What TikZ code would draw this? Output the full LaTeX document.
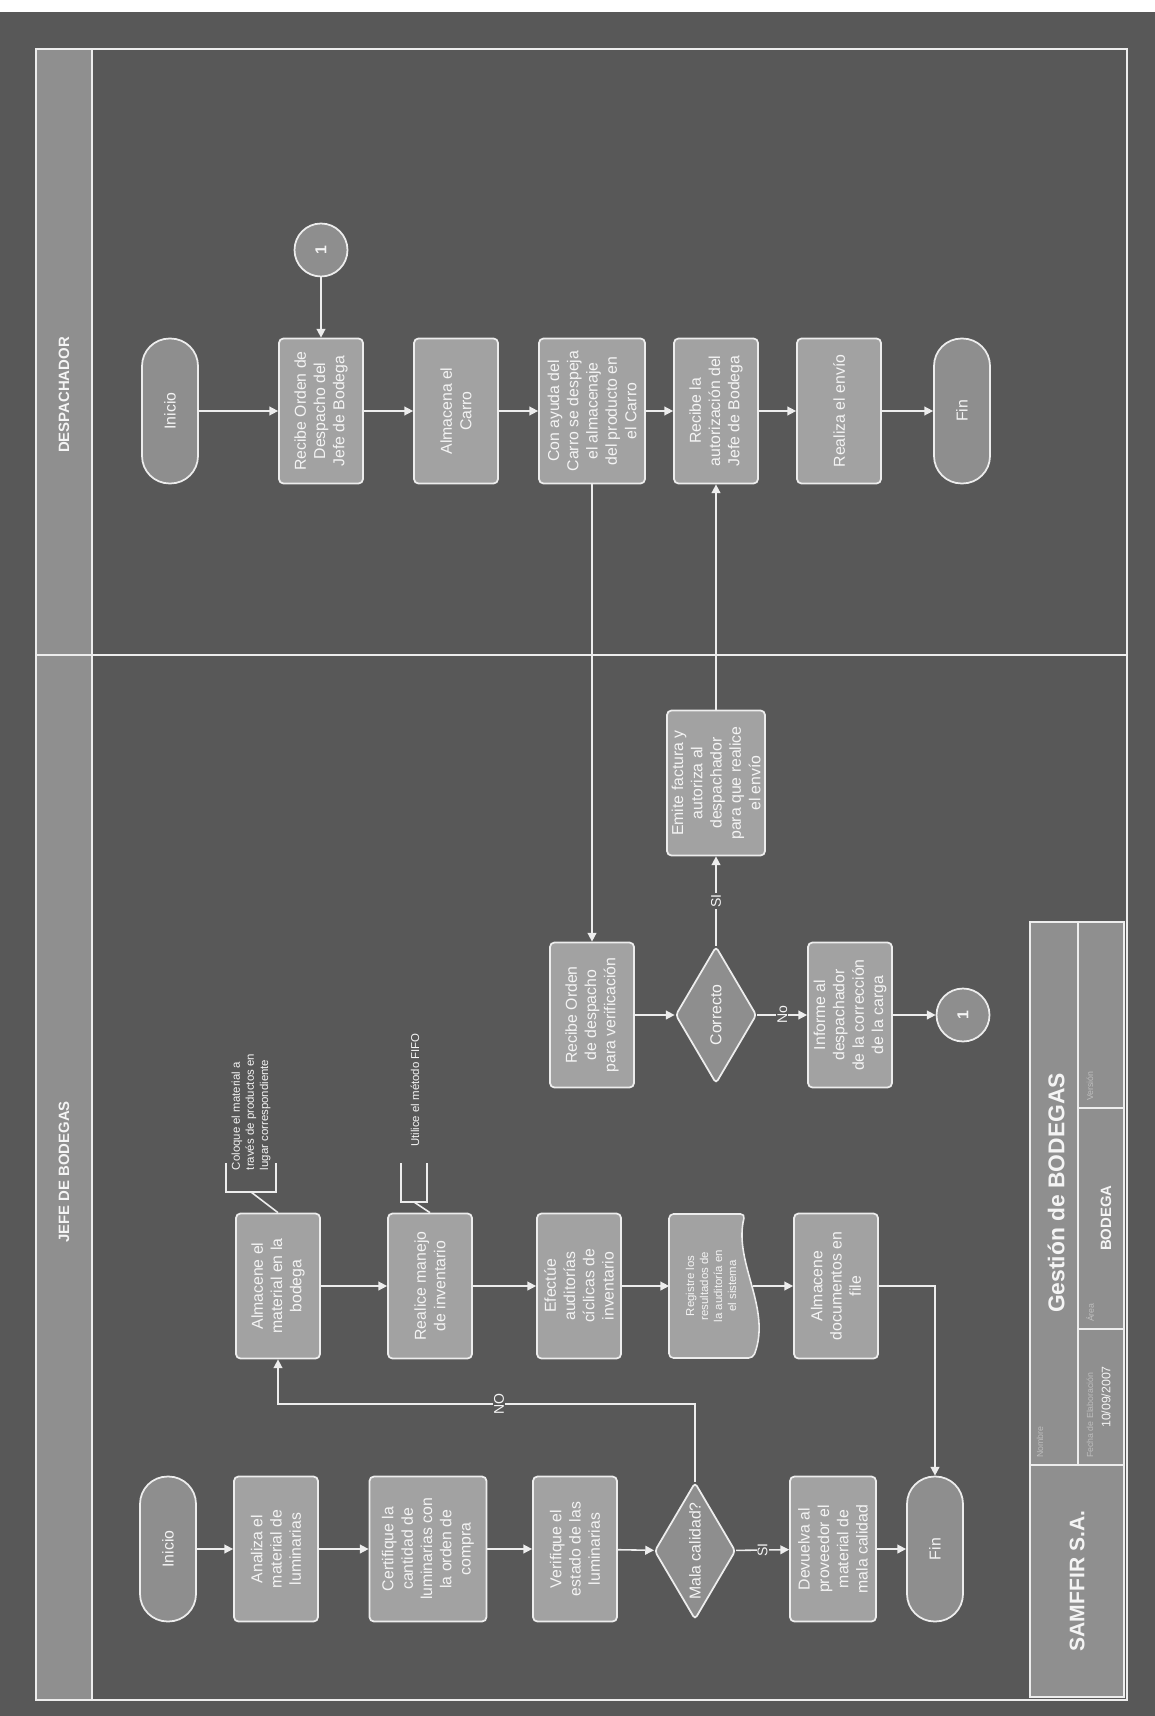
\documentclass[tikz,border=0pt]{standalone}
\usepackage{fontspec}
\setmainfont{Liberation Sans}
\usepackage{tikz}
\usetikzlibrary{arrows.meta,shapes.geometric}
\definecolor{canvas}{HTML}{585858}
\definecolor{boxgray}{HTML}{A2A2A2}
\definecolor{capgray}{HTML}{8E8E8E}
\definecolor{headgray}{HTML}{8F8F8F}
\definecolor{edgewhite}{HTML}{EDEDED}
\definecolor{inkwhite}{HTML}{F4F4F4}
\definecolor{faintgray}{HTML}{BDBDBD}

\tikzset{
  stepbox/.style={rectangle,rounded corners=2.5pt,draw=edgewhite,line width=1pt,fill=boxgray,
    text=inkwhite,rotate=90,minimum width=2.9cm,minimum height=1.68cm,inner sep=2pt,
    align=center,font=\fontsize{9}{11}\selectfont},
  endcap/.style={stepbox,rounded corners=0.55cm,minimum height=1.12cm,fill=capgray},
  decision/.style={diamond,aspect=1.7,draw=edgewhite,line width=1pt,fill=capgray,text=inkwhite,
    rotate=90,minimum width=2.74cm,minimum height=1.62cm,inner sep=0pt,rounded corners=2pt,
    font=\fontsize{9}{11}\selectfont},
  linkdot/.style={circle,draw=edgewhite,line width=1pt,fill=capgray,text=inkwhite,rotate=90,
    minimum size=1.06cm,font=\bfseries\small},
  flow/.style={draw=edgewhite,line width=0.9pt,-{Triangle[length=5pt,width=5pt]}},
  tie/.style={draw=edgewhite,line width=0.9pt},
  lanehead/.style={rotate=90,text=inkwhite,font=\bfseries\fontsize{8.5}{10}\selectfont},
  notetext/.style={rotate=90,text=inkwhite,align=left,font=\fontsize{6.5}{8}\selectfont,inner sep=1pt},
  choice/.style={rotate=90,text=inkwhite,fill=canvas,inner sep=0.6pt,font=\fontsize{8}{9}\selectfont},
  cellnote/.style={rotate=90,anchor=west,text=faintgray,font=\fontsize{5}{6}\selectfont,inner sep=1pt},
}

\begin{document}
\begin{tikzpicture}[x=0.02cm,y=-0.02cm]
  \useasboundingbox (0,0) rectangle (1155,1716);
  \fill[canvas] (0,0) rectangle (1155,1716);
  \fill[white] (0,0) rectangle (1155,12);

  % lanes
  \draw[tie] (36,49) rectangle (1127,1700);
  \draw[tie,fill=headgray] (36,49) rectangle (92,655);
  \draw[tie,fill=headgray] (36,655) rectangle (92,1700);
  \draw[tie] (92,655) -- (1127,655);
  \node[lanehead] (laneD) at (64,395) {DESPACHADOR};
  \node[lanehead] (laneJ) at (64,1172) {JEFE DE BODEGAS};

  % despachador
  \node[endcap] (iniD) at (170,411) {Inicio};
  \node[stepbox] (recOrd) at (321,411) {Recibe Orden de\\Despacho del\\Jefe de Bodega};
  \node[stepbox] (almCar) at (456,411) {Almacena el\\Carro};
  \node[stepbox,minimum height=2.12cm] (conAy) at (592,411) {Con ayuda del\\Carro se despeja\\el almacenaje\\del producto en\\el Carro};
  \node[stepbox] (recAut) at (716,411) {Recibe la\\autorización del\\Jefe de Bodega};
  \node[stepbox] (envio) at (839,411) {Realiza el envío};
  \node[endcap] (finD) at (962,411) {Fin};
  \node[linkdot] (c1top) at (321,250) {1};

  % jefe de bodegas, first row
  \node[endcap] (iniJ) at (168,1549) {Inicio};
  \node[stepbox] (analiza) at (276,1549) {Analiza el\\material de\\luminarias};
  \node[stepbox,minimum height=2.34cm] (certif) at (428,1549) {Certifique la\\cantidad de\\luminarias con\\la orden de\\compra};
  \node[stepbox] (verif) at (575,1549) {Verifique el\\estado de las\\luminarias};
  \node[decision] (mala) at (695,1551) {Mala calidad?};
  \node[stepbox,minimum height=1.72cm] (devol) at (833,1549) {Devuelva al\\proveedor el\\material de\\mala calidad};
  \node[endcap] (finJ) at (935,1549) {Fin};

  % second row
  \node[stepbox] (almMat) at (278,1286) {Almacene el\\material en la\\bodega};
  \node[stepbox] (manejo) at (430,1286) {Realice manejo\\de inventario};
  \node[stepbox] (efect) at (579,1286) {Efectúe\\auditorías\\cíclicas de\\inventario};
  \draw[tie,fill=boxgray,rounded corners=2.5pt] (669,1214) -- (745,1214)
    .. controls (733,1262) and (772,1308) .. (753,1358) -- (669,1358) -- cycle;
  \node[rotate=90,text=inkwhite,align=center,minimum width=2.9cm,minimum height=1.66cm,
    inner sep=2pt,font=\fontsize{6.5}{8}\selectfont] (doc) at (711,1286)
    {Registre los\\resultados de\\la auditoría en\\el sistema};
  \node[stepbox] (file) at (836,1286) {Almacene\\documentos en\\file};

  % notes
  \coordinate (brk1) at (251,1192);
  \coordinate (brk2) at (414,1202);
  \draw[tie] (226,1163) -- (226,1192) -- (276,1192) -- (276,1163);
  \draw[tie] (401,1163) -- (401,1202) -- (427,1202) -- (427,1163);
  \node[notetext] (note1) at (251,1112) {Coloque el material a\\través de productos en\\lugar correspondiente};
  \node[notetext] (note2) at (415,1090) {Utilice el método FIFO};
  \draw[tie] (brk1) -- (almMat.east);
  \draw[tie] (brk2) -- (manejo.east);

  % third row
  \node[stepbox] (recVer) at (592,1015) {Recibe Orden\\de despacho\\para verificación};
  \node[decision] (correcto) at (716,1015) {Correcto};
  \node[stepbox] (informe) at (850,1015) {Informe al\\despachador\\de la corrección\\de la carga};
  \node[linkdot] (c1b) at (963,1015) {1};
  \node[stepbox,minimum height=1.96cm] (emite) at (716,783) {Emite factura y\\autoriza al\\despachador\\para que realice\\el envío};

  % connectors
  \draw[flow] (iniD) -- (recOrd);
  \draw[flow] (c1top) -- (recOrd);
  \draw[flow] (recOrd) -- (almCar);
  \draw[flow] (almCar) -- (conAy);
  \draw[flow] (conAy) -- (recAut);
  \draw[flow] (recAut) -- (envio);
  \draw[flow] (envio) -- (finD);
  \draw[flow] (conAy) -- (recVer);
  \draw[flow] (emite) -- (recAut);

  \draw[flow] (iniJ) -- (analiza);
  \draw[flow] (analiza) -- (certif);
  \draw[flow] (certif) -- (verif);
  \draw[flow] (verif) -- (mala);
  \draw[flow] (mala) -- node[choice] {SI} (devol);
  \draw[flow] (devol) -- (finJ);
  \coordinate (noturn) at (500,1404);
  \draw[flow] (mala) -- (mala |- noturn) -- node[choice,pos=0.47] {NO} (almMat |- noturn) -- (almMat);

  \draw[flow] (almMat) -- (manejo);
  \draw[flow] (manejo) -- (efect);
  \draw[flow] (efect) -- (doc);
  \draw[flow] (doc) -- (file);
  \draw[flow] (file) -| (finJ);

  \draw[flow] (recVer) -- (correcto);
  \draw[flow] (correcto) -- node[choice] {No} (informe);
  \draw[flow] (informe) -- (c1b);
  \draw[flow] (correcto) -- node[choice] {SI} (emite);

  % title block
  \draw[tie,fill=headgray] (1030,922) rectangle (1124,1697);
  \draw[tie] (1030,1465) -- (1124,1465);
  \draw[tie] (1078,922) -- (1078,1465);
  \draw[tie] (1078,1108) -- (1124,1108);
  \draw[tie] (1078,1329) -- (1124,1329);
  \node[rotate=90,text=inkwhite,font=\bfseries\fontsize{12}{14}\selectfont] (firm) at (1077,1581) {SAMFFIR S.A.};
  \node[rotate=90,text=inkwhite,font=\bfseries\fontsize{13}{15}\selectfont] (ttl) at (1056,1193) {Gestión de BODEGAS};
  \node[rotate=90,text=inkwhite,font=\bfseries\fontsize{8.5}{10}\selectfont] (area) at (1106,1218) {BODEGA};
  \node[rotate=90,text=inkwhite,font=\fontsize{7}{8}\selectfont] (fecha) at (1106,1397) {10/09/2007};
  \node[cellnote] (lblName) at (1040,1460) {Nombre};
  \node[cellnote] (lblDate) at (1090,1460) {Fecha de Elaboración};
  \node[cellnote] (lblArea) at (1090,1324) {Área};
  \node[cellnote] (lblVer) at (1090,1103) {Versión};
\end{tikzpicture}
\end{document}
